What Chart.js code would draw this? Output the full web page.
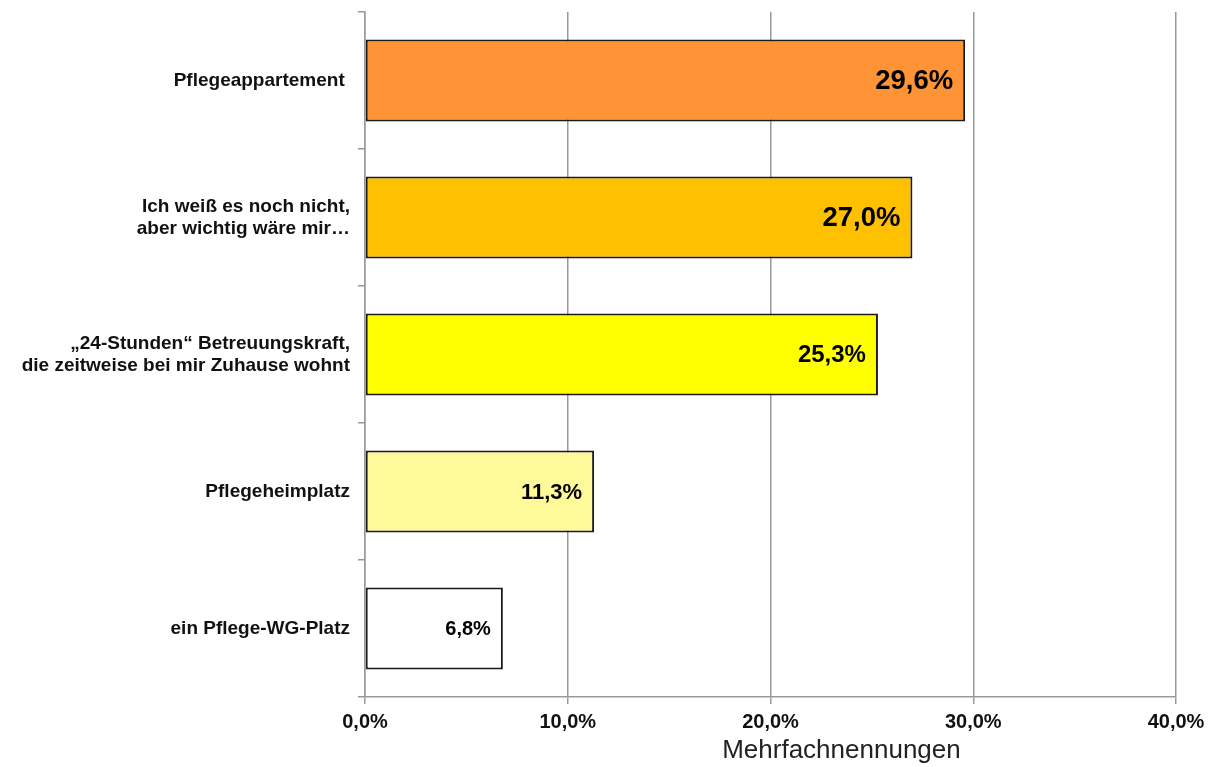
<!DOCTYPE html>
<html>
<head>
<meta charset="utf-8">
<script src="https://cdn.jsdelivr.net/npm/chart.js@4"></script>
<style>
  html, body { margin: 0; padding: 0; background: #fff; }
  #wrap { width: 1211px; height: 767px; }
</style>
</head>
<body>
<div id="wrap"><canvas id="pflege-chart"></canvas></div>
<script>
const categories = [
    'Pflegeappartement ',
    ['Ich weiß es noch nicht,', 'aber wichtig wäre mir…'],
    ['„24-Stunden“ Betreuungskraft,', 'die zeitweise bei mir Zuhause wohnt'],
    'Pflegeheimplatz',
    'ein Pflege-WG-Platz'
];
const values = [29.6, 27.0, 25.3, 11.3, 6.8];
const tickValues = [0, 10, 20, 30, 40];
const axisTitle = 'Mehrfachnennungen';

const barColors = ['#FF9436', '#FFC000', '#FFFF00', '#FFFA99', '#FFFFFF'];
const labelSizes = [27.5, 27.5, 24, 22, 20];

function fmt(v) {
    return v.toFixed(1).replace('.', ',') + '%';
}

// value labels inside the bar end + axis title
const labelPlugin = {
    id: 'valueLabels',
    afterDatasetsDraw(chart) {
        const ctx = chart.ctx;
        const meta = chart.getDatasetMeta(0);
        ctx.save();
        ctx.fillStyle = '#000';
        ctx.textAlign = 'right';
        ctx.textBaseline = 'middle';
        meta.data.forEach(function (bar, i) {
            ctx.font = 'bold ' + labelSizes[i] + 'px "Liberation Sans", Arial, sans-serif';
            ctx.fillText(fmt(values[i]), bar.x - 12, bar.y + 1);
        });
        const xs = chart.scales.x;
        ctx.font = '26px "Liberation Sans", Arial, sans-serif';
        ctx.textAlign = 'center';
        ctx.textBaseline = 'alphabetic';
        ctx.fillStyle = '#222';
        ctx.fillText(axisTitle, xs.getPixelForValue(23.5), 758);
        ctx.restore();
    }
};

new Chart(document.getElementById('pflege-chart').getContext('2d'), {
    type: 'bar',
    data: {
        labels: categories,
        datasets: [{
            data: values,
            backgroundColor: barColors,
            borderColor: '#1a1a1a',
            borderWidth: 2,
            borderSkipped: false,
            categoryPercentage: 1,
            barPercentage: 0.6
        }]
    },
    options: {
        indexAxis: 'y',
        responsive: true,
        maintainAspectRatio: false,
        animation: false,
        layout: { padding: { top: 12, right: 35, left: 0, bottom: 0 } },
        plugins: {
            legend: { display: false },
            tooltip: { enabled: false }
        },
        scales: {
            x: {
                min: 0,
                max: 40,
                afterBuildTicks(scale) {
                    scale.ticks = tickValues.map(v => ({ value: v }));
                },
                afterFit(scale) { scale.height = 70; },
                grid: {
                    color: '#999',
                    lineWidth: 1.5,
                    tickLength: 7,
                    drawOnChartArea: true
                },
                border: { color: '#999', width: 1.5 },
                ticks: {
                    color: '#111',
                    padding: 6,
                    maxRotation: 0,
                    font: { family: '"Liberation Sans", Arial, sans-serif', size: 20, weight: 'bold' },
                    callback: v => fmt(v)
                }
            },
            y: {
                afterFit(scale) {
                    scale.width = 365;
                    scale.paddingTop = 0;
                    scale.paddingBottom = 0;
                },
                grid: {
                    color: '#999',
                    lineWidth: 1.5,
                    tickLength: 7,
                    drawOnChartArea: false,
                    offset: true
                },
                border: { color: '#999', width: 1.5 },
                ticks: {
                    color: '#111',
                    padding: 8,
                    font: { family: '"Liberation Sans", Arial, sans-serif', size: 19, weight: 'bold', lineHeight: 1.16 }
                }
            }
        }
    },
    plugins: [labelPlugin]
});
</script>
</body>
</html>
